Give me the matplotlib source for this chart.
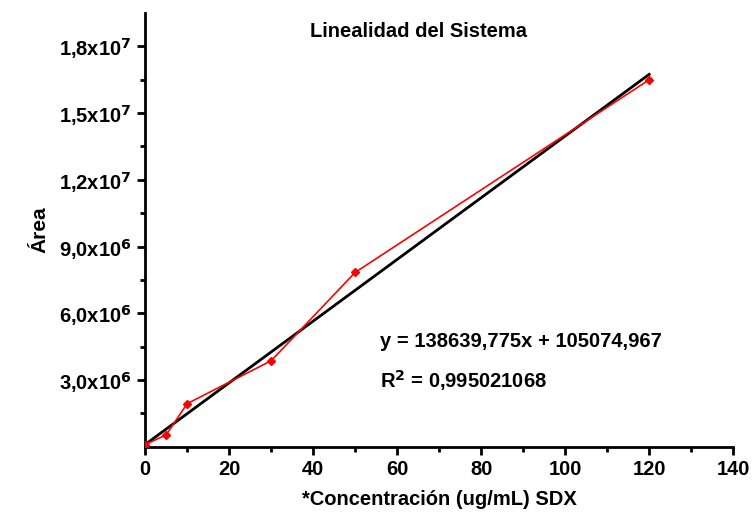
import numpy as np
import matplotlib.pyplot as plt
from matplotlib.ticker import MultipleLocator, FixedLocator

plt.rcParams['font.family'] = ['Liberation Sans', 'DejaVu Sans']
plt.rcParams['font.weight'] = 'bold'

# Data
conc = [0, 5, 10, 30, 50, 120]
area = [0.10e6, 0.54e6, 1.94e6, 3.87e6, 7.84e6, 16.50e6]

slope = 138639.775
intercept = 105074.967
fit_x = np.array([0, 120])

ytick_vals = [3e6, 6e6, 9e6, 1.2e7, 1.5e7, 1.8e7]
ytick_labels = [r'3,0x10$^{6}$', r'6,0x10$^{6}$', r'9,0x10$^{6}$',
                r'1,2x10$^{7}$', r'1,5x10$^{7}$', r'1,8x10$^{7}$']

fig = plt.figure(figsize=(7.52, 5.19), dpi=100)
ax = fig.add_axes([0.193, 0.139, 0.782, 0.836])

ax.plot(fit_x, slope * fit_x + intercept, color='black', lw=2, zorder=2)
ax.plot(conc, area, color='red', lw=1.2, marker='D', ms=4, zorder=3)

ax.set_xlim(0, 140)
ax.set_ylim(0, 1.95e7)
ax.xaxis.set_major_locator(MultipleLocator(20))
ax.xaxis.set_minor_locator(MultipleLocator(10))
ax.yaxis.set_major_locator(FixedLocator(ytick_vals))
ax.set_yticklabels(ytick_labels)
ax.yaxis.set_minor_locator(FixedLocator(np.arange(1.5e6, 1.95e7, 3e6)))

for s in ['top', 'right']:
    ax.spines[s].set_visible(False)
for s in ['left', 'bottom']:
    ax.spines[s].set_linewidth(2)

ax.tick_params(which='major', direction='out', length=6, width=2, labelsize=14.5)
ax.tick_params(which='minor', direction='out', length=3.5, width=2)
for lbl in ax.get_xticklabels() + ax.get_yticklabels():
    lbl.set_fontweight('bold')

ax.set_xlabel('*Concentración (ug/mL) SDX', fontsize=14.5, fontweight='bold', labelpad=8)
ax.set_ylabel('Área', fontsize=15, fontweight='bold', labelpad=7)
ax.text(0.465, 0.98, 'Linealidad del Sistema', transform=ax.transAxes,
        ha='center', va='top', fontsize=14.5, fontweight='bold')

ax.text(56, 4.75e6, 'y = 138639,775x + 105074,967', fontsize=14.5, fontweight='bold',
        va='center')
ax.text(56, 2.97e6, r'R$^{2}$ = 0,995021068', fontsize=14.5, fontweight='bold',
        va='center')

fig.savefig('out.png', dpi=100)
